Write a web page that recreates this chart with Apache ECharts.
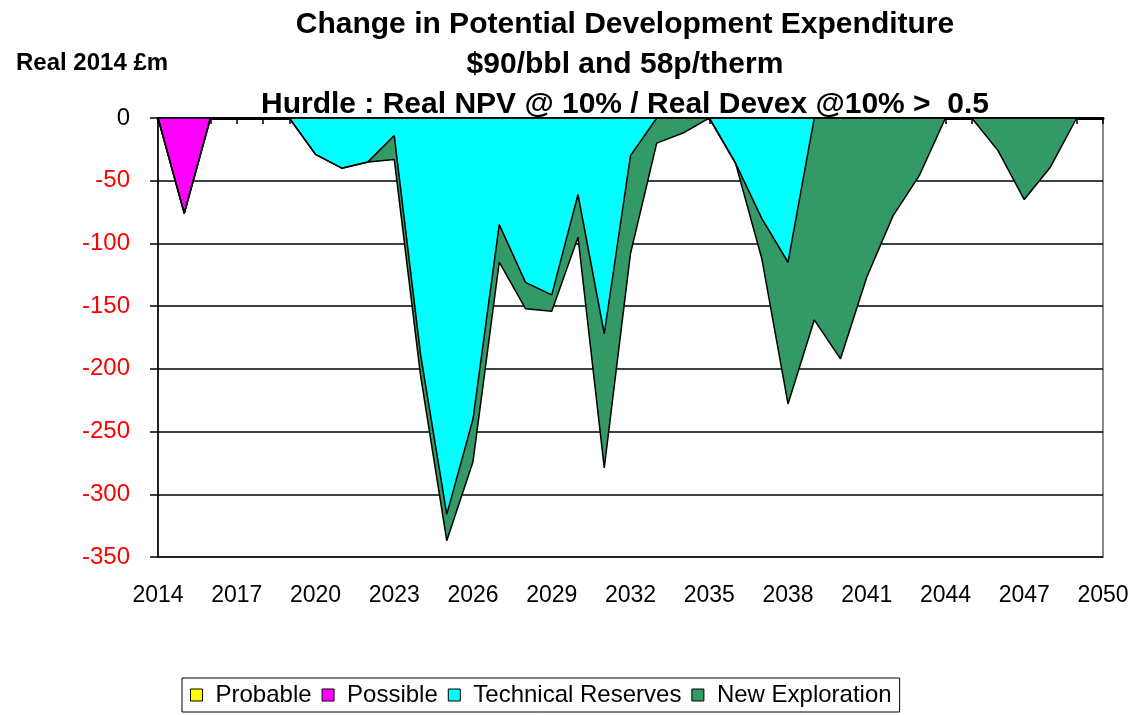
<!DOCTYPE html>
<html>
<head>
<meta charset="utf-8">
<script src="https://cdn.jsdelivr.net/npm/echarts@6/dist/echarts.min.js"></script>
<style>
  html, body { margin: 0; padding: 0; background: #fff; }
  #main { width: 1136px; height: 715px; }
</style>
</head>
<body>
<div id="main"></div>
<script>
// years on the x axis (one point per year)
var years = [];
for (var y = 2014; y <= 2050; y++) { years.push(String(y)); }

// Real 2014 £m
var probable = [0, 0, 0, 0, 0, 0, 0, 0, 0, 0, 0, 0, 0, 0, 0, 0, 0, 0, 0, 0, 0, 0, 0, 0, 0, 0, 0, 0, 0, 0, 0, 0, 0, 0, 0, 0, 0];
var possible = [0, -76, 0, 0, 0, 0, 0, 0, 0, 0, 0, 0, 0, 0, 0, 0, 0, 0, 0, 0, 0, 0, 0, 0, 0, 0, 0, 0, 0, 0, 0, 0, 0, 0, 0, 0, 0];
var technical = [0, 0, 0, 0, 0, 0, -29, -40, -35, -14, -188, -316, -240, -85, -131, -141, -61, -172, -30, 0,
    0, 0, -36, -80, -115, 0, 0, 0, 0, 0, 0, 0, 0, 0, 0, 0, 0];
var newExploration = [0, 0, 0, 0, 0, 0, 0, 0, 0, -19, -17, -21, -34, -30, -21, -13, -34, -107, -78, -20,
    -12, 0, 0, -32, -113, -161, -192, -127, -78, -46, 0, 0, -26, -65, -39, 0, 0];

var seriesNames = ['Probable', 'Possible', 'Technical Reserves', 'New Exploration'];
var seriesData = [probable, possible, technical, newExploration];
var colors = ['#ffff00', '#ff00ff', '#00ffff', '#339966'];

var chart = echarts.init(document.getElementById('main'));

var series = seriesData.map(function(d, i) {
    return {
        name: seriesNames[i],
        type: 'line',
        stack: 'total',
        stackStrategy: 'all',
        data: d,
        symbol: 'none',
        lineStyle: { color: '#000', width: 1.5 },
        itemStyle: { color: colors[i] },
        areaStyle: { color: colors[i], opacity: 1 }
    };
});

var option = {
    backgroundColor: '#fff',
    animation: false,
    textStyle: { fontFamily: 'Liberation Sans, Arial, sans-serif' },
    title: [{
        text: 'Change in Potential Development Expenditure\n$90/bbl and 58p/therm\nHurdle : Real NPV @ 10% / Real Devex @10% >  0.5',
        left: 620,
        top: 0,
        textAlign: 'center',
        textStyle: { fontSize: 30, fontWeight: 'bold', color: '#000', lineHeight: 40 }
    }, {
        text: 'Real 2014 £m',
        left: 11,
        top: 46,
        textStyle: { fontSize: 24, fontWeight: 'bold', color: '#000' }
    }],
    legend: {
        data: seriesNames,
        left: 182,
        bottom: 3,
        icon: 'rect',
        itemWidth: 12,
        itemHeight: 12,
        itemGap: 10,
        padding: [5, 8],
        borderColor: '#000',
        borderWidth: 1,
        itemStyle: { borderColor: '#000', borderWidth: 1 },
        textStyle: { fontSize: 24, color: '#000', padding: [0, 0, 0, 8] }
    },
    grid: {
        left: 158,
        right: 33,
        top: 118,
        bottom: 158,
        show: true,
        borderColor: '#888',
        borderWidth: 2
    },
    xAxis: [{
        type: 'category',
        data: years,
        boundaryGap: false,
        position: 'bottom',
        axisLine: { show: true, lineStyle: { color: '#888', width: 2 } },
        axisTick: { show: false },
        axisLabel: { interval: 2, fontSize: 23, color: '#000', margin: 27 },
        splitLine: { show: false }
    }, {
        type: 'category',
        data: years,
        boundaryGap: false,
        position: 'top',
        axisLine: { show: true, onZero: false, lineStyle: { color: '#000', width: 3 } },
        axisTick: { show: true, inside: true, interval: 0, length: 6, lineStyle: { color: '#000', width: 1.5 } },
        axisLabel: { show: false },
        splitLine: { show: false }
    }],
    yAxis: {
        type: 'value',
        min: -350,
        max: 0,
        interval: 50,
        axisLine: { show: true, lineStyle: { color: '#000', width: 1.5 } },
        axisTick: { show: true, length: 8, lineStyle: { color: '#000', width: 1.5 } },
        axisLabel: {
            fontSize: 24,
            margin: 28,
            color: function(value) { return Number(value) === 0 ? '#000' : '#ff0000'; }
        },
        splitLine: { show: true, lineStyle: { color: '#000', width: 1.5 } }
    },
    series: series
};

chart.setOption(option);
</script>
</body>
</html>
